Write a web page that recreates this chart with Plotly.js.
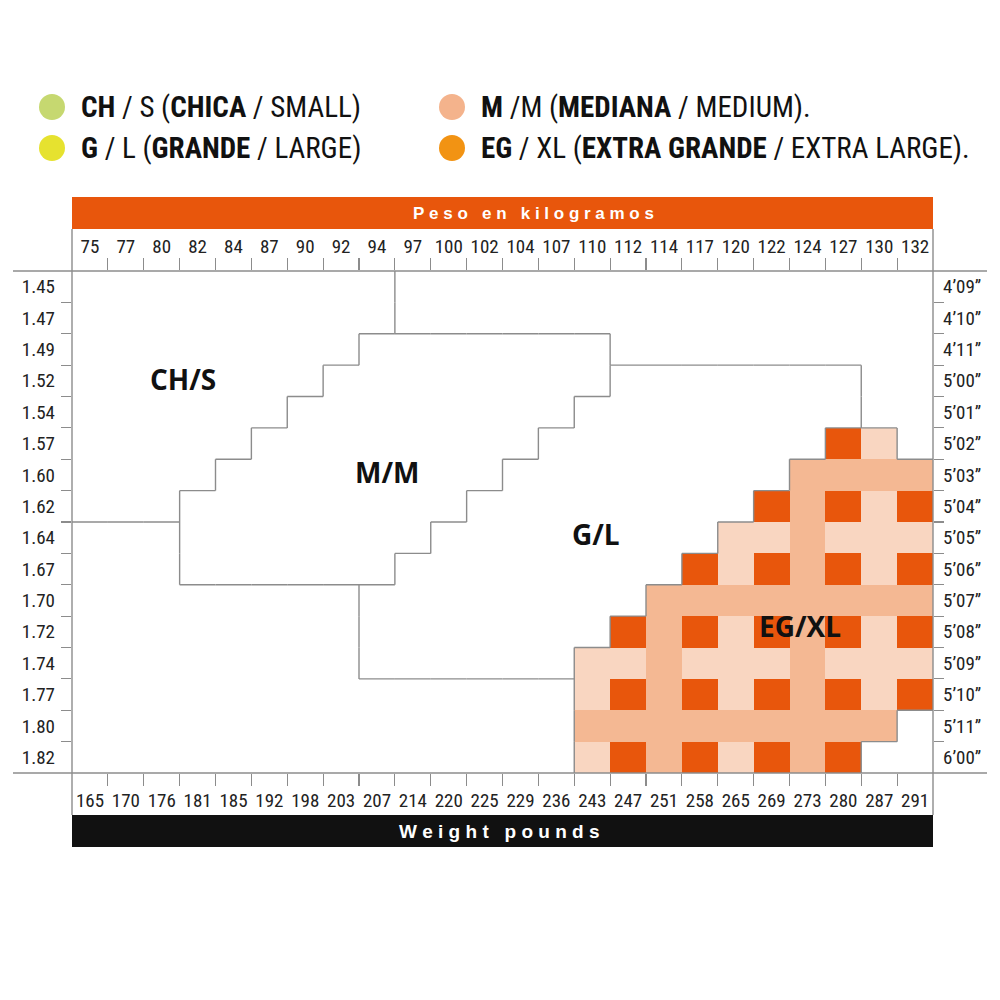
<!DOCTYPE html>
<html>
<head>
<meta charset="utf-8">
<script src="https://cdn.plot.ly/plotly-3.0.1.min.js"></script>
<style>html,body{margin:0;padding:0;background:#fff;}#chart{width:1000px;height:1000px;}</style>
</head>
<body>
<div id="chart"></div>
<script>
// ---------- DATA ----------
const kgLabels = ['75','77','80','82','84','87','90','92','94','97','100','102','104','107','110','112','114','117','120','122','124','127','130','132'];
const lbLabels = ['165','170','176','181','185','192','198','203','207','214','220','225','229','236','243','247','251','258','265','269','273','280','287','291'];
const meterLabels = ['1.45','1.47','1.49','1.52','1.54','1.57','1.60','1.62','1.64','1.67','1.70','1.72','1.74','1.77','1.80','1.82'];
const feetLabels = ['4’09”','4’10”','4’11”','5’00”','5’01”','5’02”','5’03”','5’04”','5’05”','5’06”','5’07”','5’08”','5’09”','5’10”','5’11”','6’00”'];

// size zone of every cell (row = height, column = weight)
// S = CH/S, M = M/M, L = G/L, X = EG/XL, A / U / E = other unlabeled zones
const sizeRows = [
  'SSSSSSSSSUUUUUUUUUUUUUUU',
  'SSSSSSSSSUUUUUUUUUUUUUUU',
  'SSSSSSSSMMMMMMMUUUUUUUUU',
  'SSSSSSSMMMMMMMMLLLLLLLUU',
  'SSSSSSMMMMMMMMLLLLLLLLUU',
  'SSSSSMMMMMMMMLLLLLLLLXXU',
  'SSSSMMMMMMMMLLLLLLLLXXXX',
  'SSSMMMMMMMMLLLLLLLLXXXXX',
  'AAAMMMMMMMLLLLLLLLXXXXXX',
  'AAAMMMMMMLLLLLLLLXXXXXXX',
  'AAAAAAAALLLLLLLLXXXXXXXX',
  'AAAAAAAALLLLLLLXXXXXXXXX',
  'AAAAAAAALLLLLLXXXXXXXXXX',
  'AAAAAAAAAAAAAAXXXXXXXXXX',
  'AAAAAAAAAAAAAAXXXXXXXXXE',
  'AAAAAAAAAAAAAAXXXXXXXXEE'
];
// EG/XL shading: p = pale, m = medium, d = dark, . = none
const shadeRows = [
  '........................',
  '........................',
  '........................',
  '........................',
  '........................',
  '.....................dp.',
  '....................mmmm',
  '...................dmdpd',
  '..................ppmppp',
  '.................dpdmdpd',
  '................mmmmmmmm',
  '...............dmdpdmdpd',
  '..............ppmpppmppp',
  '..............pdmdpdmdpd',
  '..............mmmmmmmmm.',
  '..............pdmdpdmd..'
];
const zoneLabels = ['CH/S','M/M','G/L','EG/XL'];
const legendColors = ['#c6d870','#e6e22f','#f4b38c','#f29313'];
const legendTexts = [
  '<b>CH</b> / S (<b>CHICA</b> / SMALL)',
  '<b>G</b> / L (<b>GRANDE</b> / LARGE)',
  '<b>M</b> /M (<b>MEDIANA</b> / MEDIUM).',
  '<b>EG</b> / XL (<b>EXTRA GRANDE</b> / EXTRA LARGE).'
];
const topBarText = 'Peso en kilogramos';
const bottomBarText = 'Weight pounds';

// ---------- STYLE / LAYOUT ----------
const ORANGE = '#e8560c', MED = '#f4b893', PALE = '#f9d6c1';
const LINE = '#8c8c8c';
const L = 72, R = 933, T = 271, B = 773;
const W = R - L, H = B - T;
const px = x => (x - L) / W;
const py = y => (B - y) / H;
const narrow = '"Roboto Condensed", "DejaVu Sans Condensed", "Liberation Sans", sans-serif';

const nCols = kgLabels.length, nRows = meterLabels.length;
const colIdx = kgLabels.map((_, i) => i);
const rowIdx = meterLabels.map((_, i) => i);
const colEdges = colIdx.slice(0, -1).map(i => i + 0.5);
const rowEdges = rowIdx.slice(0, -1).map(i => i + 0.5);

const shadeVal = {p: 0, m: 1, d: 2};
const z = shadeRows.map(row => row.split('').map(ch => (ch in shadeVal) ? shadeVal[ch] : null));

// zone boundaries: a segment wherever two neighbouring cells belong to different zones
const bx = [], by = [];
for (let r = 0; r < nRows; r++) {
  for (let c = 0; c < nCols - 1; c++) {
    if (sizeRows[r][c] !== sizeRows[r][c + 1]) { bx.push(c + 0.5, c + 0.5, null); by.push(r - 0.5, r + 0.5, null); }
  }
}
for (let r = 0; r < nRows - 1; r++) {
  for (let c = 0; c < nCols; c++) {
    if (sizeRows[r][c] !== sizeRows[r + 1][c]) { bx.push(c - 0.5, c + 0.5, null); by.push(r + 0.5, r + 0.5, null); }
  }
}

const spaced = s => s.split(' ').map(w => w.split('').join('\u00A0')).join('\u00A0\u00A0\u00A0');

const traces = [
  {type: 'heatmap', z: z, x: colIdx, y: rowIdx,
   colorscale: [[0, PALE], [0.3333, PALE], [0.3334, MED], [0.6666, MED], [0.6667, ORANGE], [1, ORANGE]],
   zmin: 0, zmax: 2, showscale: false, hoverinfo: 'skip', xgap: 0, ygap: 0},
  {type: 'scatter', mode: 'lines', x: bx, y: by, connectgaps: false, line: {color: LINE, width: 1.4}, hoverinfo: 'skip', showlegend: false},
  {type: 'scatter', mode: 'markers', x: [0], y: [0], xaxis: 'x2', yaxis: 'y2', marker: {opacity: 0}, hoverinfo: 'skip', showlegend: false}
];

const tickFont = {family: narrow, size: 19, color: '#222'};
const minorX = {tickmode: 'array', tickvals: colEdges, ticks: 'outside', ticklen: 12, tickwidth: 1.2, tickcolor: LINE, showgrid: false};
const minorY = {tickmode: 'array', tickvals: rowEdges, ticks: 'outside', ticklen: 10, tickwidth: 1.2, tickcolor: LINE, showgrid: false};

const shapes = [
  {type: 'rect', xref: 'paper', yref: 'paper', x0: 0, x1: 1, y0: py(229), y1: py(197), fillcolor: ORANGE, line: {width: 0}, layer: 'below'},
  {type: 'rect', xref: 'paper', yref: 'paper', x0: 0, x1: 1, y0: py(847), y1: py(815), fillcolor: '#111111', line: {width: 0}, layer: 'below'},
  {type: 'line', xref: 'paper', yref: 'paper', x0: 0, x1: 0, y0: py(815), y1: py(229), line: {color: LINE, width: 1.4}},
  {type: 'line', xref: 'paper', yref: 'paper', x0: 1, x1: 1, y0: py(815), y1: py(229), line: {color: LINE, width: 1.4}},
  {type: 'line', xref: 'paper', yref: 'paper', x0: px(13), x1: px(987), y0: 1, y1: 1, line: {color: LINE, width: 1.4}},
  {type: 'line', xref: 'paper', yref: 'paper', x0: px(13), x1: px(987), y0: 0, y1: 0, line: {color: LINE, width: 1.4}}
];
const legendPos = [[52, 107], [52, 148], [452, 107], [452, 148]];
legendColors.forEach((col, i) => {
  const [cx, cy] = legendPos[i];
  shapes.push({type: 'circle', xref: 'paper', yref: 'paper', x0: px(cx - 13), x1: px(cx + 13), y0: py(cy + 13), y1: py(cy - 13), fillcolor: col, line: {width: 0}});
});

const annotations = [];
legendTexts.forEach((t, i) => {
  const [cx, cy] = legendPos[i];
  annotations.push({xref: 'paper', yref: 'paper', x: px(cx + 27), y: py(cy), xanchor: 'left', yanchor: 'middle', showarrow: false, text: t, font: {family: narrow, size: 29, color: '#111'}});
});
annotations.push({xref: 'paper', yref: 'paper', x: px(533), y: py(213), xanchor: 'center', yanchor: 'middle', showarrow: false, text: '<b>' + spaced(topBarText) + '</b>', font: {family: 'Liberation Sans, Arial, sans-serif', size: 17, color: '#fff'}});
annotations.push({xref: 'paper', yref: 'paper', x: px(499), y: py(831), xanchor: 'center', yanchor: 'middle', showarrow: false, text: '<b>' + spaced(bottomBarText) + '</b>', font: {family: 'Liberation Sans, Arial, sans-serif', size: 19, color: '#fff'}});
const zonePos = [[183, 379], [387, 472], [596, 534], [800, 626]];
zoneLabels.forEach((t, i) => {
  annotations.push({xref: 'paper', yref: 'paper', x: px(zonePos[i][0]), y: py(zonePos[i][1]), xanchor: 'center', yanchor: 'middle', showarrow: false, text: '<b>' + t + '</b>', font: {family: '"Open Sans", sans-serif', size: 28, color: '#111'}});
});

const layout = {
  width: 1000, height: 1000,
  margin: {l: L, r: 1000 - R, t: T, b: 1000 - B, pad: 0},
  paper_bgcolor: '#fff', plot_bgcolor: '#fff',
  showlegend: false,
  xaxis: {range: [-0.5, nCols - 0.5], tickmode: 'array', tickvals: colIdx, ticktext: lbLabels, tickangle: 0, ticks: '', showgrid: false, zeroline: false, showline: false, tickfont: tickFont, minor: minorX, ticklabelstandoff: 14, fixedrange: true},
  xaxis2: {range: [-0.5, nCols - 0.5], overlaying: 'x', side: 'top', tickmode: 'array', tickvals: colIdx, ticktext: kgLabels, tickangle: 0, ticks: '', showgrid: false, zeroline: false, showline: false, tickfont: tickFont, minor: minorX, ticklabelstandoff: 13, fixedrange: true},
  yaxis: {range: [nRows - 0.5, -0.5], tickmode: 'array', tickvals: rowIdx, ticktext: meterLabels, ticks: '', showgrid: false, zeroline: false, showline: false, tickfont: tickFont, minor: minorY, ticklabelstandoff: 16, fixedrange: true},
  yaxis2: {range: [nRows - 0.5, -0.5], overlaying: 'y', side: 'right', tickmode: 'array', tickvals: rowIdx, ticktext: feetLabels, ticks: '', showgrid: false, zeroline: false, showline: false, tickfont: tickFont, minor: minorY, ticklabelstandoff: 9, fixedrange: true},
  shapes: shapes,
  annotations: annotations
};

Plotly.newPlot('chart', traces, layout, {displayModeBar: false, staticPlot: true});
</script>
</body>
</html>
